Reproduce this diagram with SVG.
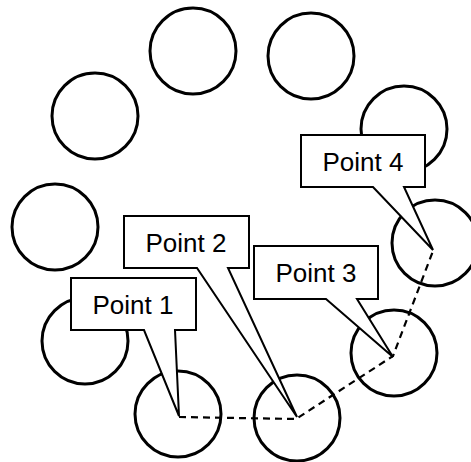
<svg xmlns="http://www.w3.org/2000/svg" width="471" height="462" viewBox="0 0 471 462">
<style>
.c{fill:none;stroke:#000;stroke-width:3}
.co{fill:#fff;stroke:#000;stroke-width:2;stroke-linejoin:miter}
.t{font-family:"Liberation Sans",Arial,sans-serif;font-size:26px;fill:#000;text-anchor:middle}
.d{fill:none;stroke:#000;stroke-width:2.2;stroke-dasharray:7 5}
</style>
<rect width="471" height="462" fill="#fff"/>
<g id="circles">
<circle id="c1" class="c" cx="193" cy="51" r="43"/>
<circle id="c2" class="c" cx="311" cy="56" r="43"/>
<circle id="c3" class="c" cx="95" cy="116" r="43"/>
<circle id="c4" class="c" cx="404" cy="129" r="43"/>
<circle id="c5" class="c" cx="55" cy="227" r="43"/>
<circle id="c6" class="c" cx="435" cy="243" r="43"/>
<circle id="c7" class="c" cx="85" cy="341" r="43"/>
<circle id="c8" class="c" cx="178" cy="414" r="43"/>
<circle id="c9" class="c" cx="297" cy="418" r="43"/>
<circle id="c10" class="c" cx="394" cy="353" r="43"/>
</g>
<g id="connectors">
<polyline class="d" points="179,417 296,419 393,356 433,251"/>
</g>
<g id="point4">
<path class="co" d="M301,135 H425 V187 H404 L433,250 L373,187 H301 Z"/>
<text class="t" x="363" y="171">Point 4</text>
</g>
<g id="point3">
<path class="co" d="M254,246 H378 V299 H357 L393,357 L326,299 H254 Z"/>
<text class="t" x="316" y="282">Point 3</text>
</g>
<g id="point2">
<path class="co" d="M124,216 H249 V268 H228 L297,417 L197,268 H124 Z"/>
<text class="t" x="186" y="252">Point 2</text>
</g>
<g id="point1">
<path class="co" d="M71,278 H196 V330 H175 L179,416 L144,330 H71 Z"/>
<text class="t" x="133" y="314">Point 1</text>
</g>
</svg>
